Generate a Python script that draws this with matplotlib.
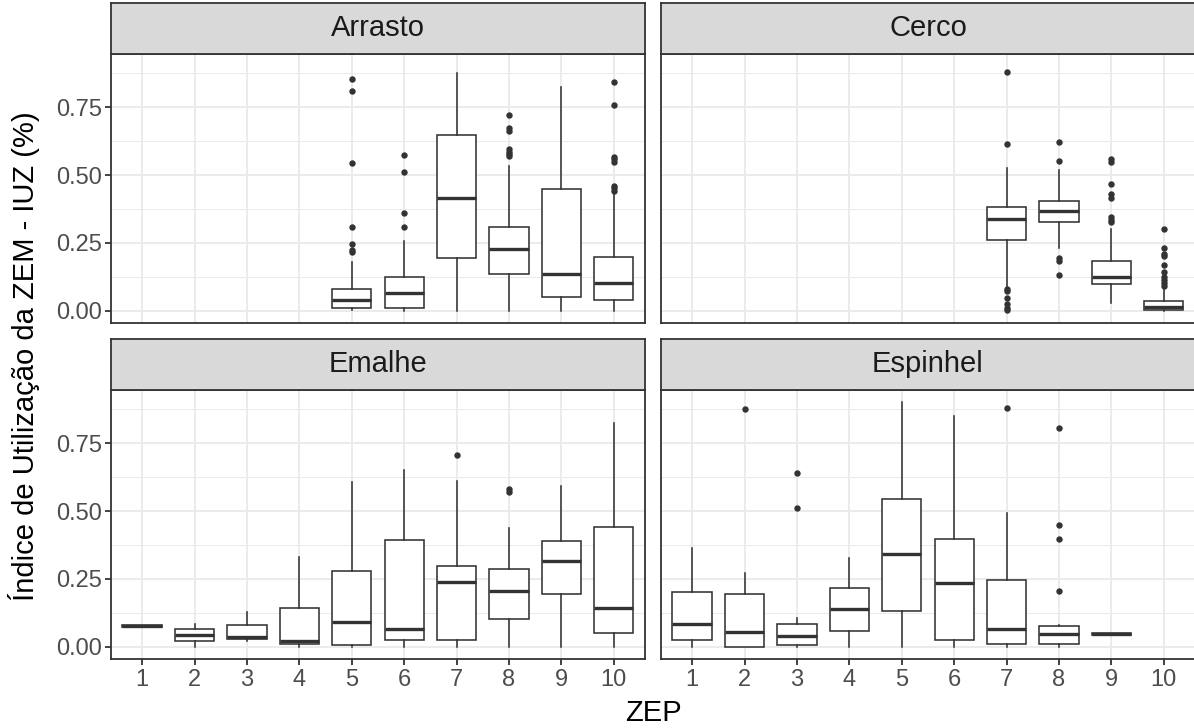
import matplotlib
matplotlib.use("Agg")
import matplotlib.pyplot as plt

plt.rcParams["font.family"] = ["Liberation Sans", "DejaVu Sans"]

# ---- data -----------------------------------------------------------------
ZEP = list(range(1, 11))
Y_TICKS = [0.0, 0.25, 0.50, 0.75]
Y_TICK_LABELS = ["0.00", "0.25", "0.50", "0.75"]
Y_MINOR = [0.125, 0.375, 0.625, 0.875]

# Arrasto
arrasto_zep = [5, 6, 7, 8, 9, 10]
arrasto_q1 = [0.011, 0.010, 0.195, 0.134, 0.049, 0.038]
arrasto_med = [0.040, 0.066, 0.417, 0.228, 0.137, 0.102]
arrasto_q3 = [0.081, 0.125, 0.648, 0.308, 0.447, 0.199]
arrasto_lo = [0.002, 0.0, 0.0, 0.0, 0.0, 0.0]
arrasto_hi = [0.178, 0.257, 0.877, 0.533, 0.824, 0.433]
arrasto_out = [
    [0.855, 0.810, 0.543, 0.309, 0.246, 0.224, 0.217],
    [0.574, 0.512, 0.360, 0.308],
    [],
    [0.722, 0.672, 0.663, 0.596, 0.586, 0.576, 0.570],
    [],
    [0.842, 0.757, 0.565, 0.558, 0.549, 0.460, 0.451, 0.442],
]

# Cerco
cerco_zep = [7, 8, 9, 10]
cerco_q1 = [0.262, 0.326, 0.099, 0.004]
cerco_med = [0.337, 0.369, 0.124, 0.013]
cerco_q3 = [0.384, 0.406, 0.183, 0.036]
cerco_lo = [0.089, 0.230, 0.028, 0.0]
cerco_hi = [0.527, 0.518, 0.301, 0.089]
cerco_out = [
    [0.880, 0.613, 0.080, 0.074, 0.047, 0.026, 0.010, 0.004],
    [0.623, 0.551, 0.194, 0.185, 0.132],
    [0.558, 0.549, 0.466, 0.429, 0.414, 0.347, 0.335, 0.326],
    [0.300, 0.230, 0.210, 0.202, 0.167, 0.142, 0.124, 0.114, 0.102, 0.093],
]

# Emalhe
emalhe_zep = [1, 2, 3, 4, 5, 6, 7, 8, 9, 10]
emalhe_q1 = [0.074, 0.022, 0.027, 0.012, 0.007, 0.025, 0.025, 0.104, 0.196, 0.052]
emalhe_med = [0.076, 0.043, 0.035, 0.022, 0.093, 0.065, 0.238, 0.204, 0.316, 0.144]
emalhe_q3 = [0.079, 0.064, 0.081, 0.143, 0.281, 0.395, 0.296, 0.286, 0.390, 0.443]
emalhe_lo = [0.074, 0.0, 0.020, 0.0, 0.0, 0.0, 0.0, 0.0, 0.0, 0.0]
emalhe_hi = [0.079, 0.084, 0.128, 0.332, 0.607, 0.651, 0.612, 0.438, 0.593, 0.823]
emalhe_out = [[], [], [], [], [], [], [0.707], [0.583, 0.571], [], []]

# Espinhel
espinhel_zep = [1, 2, 3, 4, 5, 6, 7, 8, 9]
espinhel_q1 = [0.025, 0.0, 0.007, 0.058, 0.130, 0.026, 0.010, 0.012, 0.045]
espinhel_med = [0.083, 0.053, 0.038, 0.141, 0.340, 0.234, 0.064, 0.048, 0.048]
espinhel_q3 = [0.200, 0.194, 0.083, 0.218, 0.544, 0.397, 0.245, 0.075, 0.052]
espinhel_lo = [0.0, 0.0, 0.0, 0.0, 0.0, 0.0, 0.0, 0.0, 0.045]
espinhel_hi = [0.365, 0.271, 0.105, 0.327, 0.902, 0.851, 0.492, 0.080, 0.052]
espinhel_out = [[], [0.876], [0.641, 0.511], [], [], [], [0.879],
                [0.805, 0.450, 0.396, 0.206], []]

FACETS = [
    ("Arrasto", arrasto_zep, arrasto_q1, arrasto_med, arrasto_q3, arrasto_lo, arrasto_hi, arrasto_out),
    ("Cerco", cerco_zep, cerco_q1, cerco_med, cerco_q3, cerco_lo, cerco_hi, cerco_out),
    ("Emalhe", emalhe_zep, emalhe_q1, emalhe_med, emalhe_q3, emalhe_lo, emalhe_hi, emalhe_out),
    ("Espinhel", espinhel_zep, espinhel_q1, espinhel_med, espinhel_q3, espinhel_lo, espinhel_hi, espinhel_out),
]

# ---- style ----------------------------------------------------------------
W, H = 1194, 728
DARK = "#333333"
GRID = "#EBEBEB"
STRIP_FILL = "#D9D9D9"
TICK_TEXT = "#4D4D4D"
TICK_SIZE = 17
STRIP_SIZE = 21
TITLE_SIZE = 21

fig = plt.figure(figsize=(W / 100, H / 100), dpi=100)
fig.patch.set_facecolor("white")

col_x = [110.7 / W, 660.7 / W]
col_w = 534.5 / W
row_y = [(H - 323) / H, (H - 659) / H]
panel_h = 269 / H
strip_h = 51 / H


def box_stats(q1, med, q3, lo, hi, out):
    return [dict(q1=a, med=b, q3=c, whislo=d, whishi=e, fliers=f)
            for a, b, c, d, e, f in zip(q1, med, q3, lo, hi, out)]


for idx, (name, zep, q1, med, q3, lo, hi, out) in enumerate(FACETS):
    r, c = divmod(idx, 2)
    ax = fig.add_axes([col_x[c], row_y[r], col_w, panel_h])
    ax.set_facecolor("white")
    ax.set_axisbelow(True)

    ax.bxp(
        box_stats(q1, med, q3, lo, hi, out),
        positions=zep, widths=0.75, showcaps=False, patch_artist=True,
        boxprops=dict(facecolor="white", edgecolor=DARK, linewidth=1.15),
        medianprops=dict(color=DARK, linewidth=2.4, solid_capstyle="butt"),
        whiskerprops=dict(color=DARK, linewidth=1.15),
        flierprops=dict(marker="o", markerfacecolor=DARK, markeredgecolor="none",
                        markersize=4.6, linestyle="none"),
        manage_ticks=False,
    )

    ax.set_xlim(0.4, 10.6)
    ax.set_ylim(-0.045, 0.946)
    ax.set_xticks(ZEP)
    ax.set_yticks(Y_TICKS)
    ax.set_yticks(Y_MINOR, minor=True)
    ax.grid(which="major", color=GRID, linewidth=1.4)
    ax.grid(which="minor", axis="y", color=GRID, linewidth=0.7)
    ax.tick_params(which="minor", length=0)

    for sp in ax.spines.values():
        sp.set_color(DARK)
        sp.set_linewidth(1.3)

    if r == 1:
        ax.set_xticklabels([str(z) for z in ZEP], fontsize=TICK_SIZE, color=TICK_TEXT)
        ax.tick_params(axis="x", which="major", length=4.5, width=1.3, color=DARK, pad=3)
    else:
        ax.tick_params(axis="x", which="major", length=0, labelbottom=False)
    if c == 0:
        ax.set_yticklabels(Y_TICK_LABELS, fontsize=TICK_SIZE, color=TICK_TEXT)
        ax.tick_params(axis="y", which="major", length=4.5, width=1.3, color=DARK, pad=2)
    else:
        ax.tick_params(axis="y", which="major", length=0, labelleft=False)

    # facet strip
    sax = fig.add_axes([col_x[c], row_y[r] + panel_h, col_w, strip_h])
    sax.set_facecolor(STRIP_FILL)
    sax.set_xticks([])
    sax.set_yticks([])
    for sp in sax.spines.values():
        sp.set_color(DARK)
        sp.set_linewidth(1.3)
    sax.text(0.5, 0.5, name, ha="center", va="center", fontsize=STRIP_SIZE,
             color="#1A1A1A", transform=sax.transAxes)

fig.text(653 / W, 1 - 713 / H, "ZEP", ha="center", va="center",
         fontsize=TITLE_SIZE, color="black")
fig.text(24 / W, 1 - 356 / H, "Índice de Utilização da ZEM - IUZ (%)",
         ha="center", va="center", rotation=90, fontsize=TITLE_SIZE, color="black")

fig.savefig("out.png", dpi=100, facecolor="white")
